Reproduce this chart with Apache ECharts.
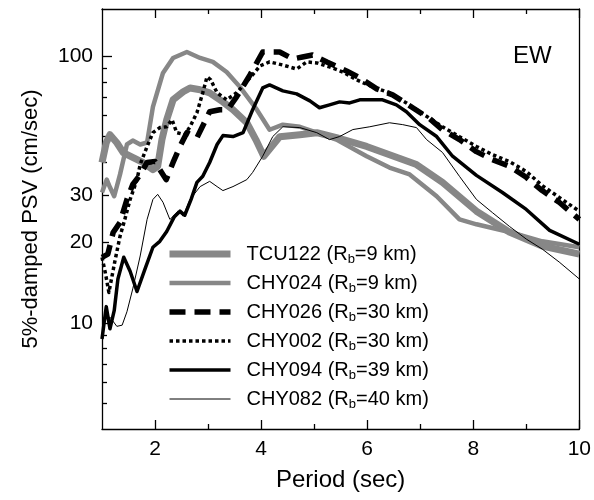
<!DOCTYPE html>
<html><head><meta charset="utf-8">
<script src="https://cdn.jsdelivr.net/npm/echarts@6/dist/echarts.min.js"></script>
<style>html,body{margin:0;padding:0;background:#fff}#c{width:594px;height:500px}</style>
</head><body><div id="c"></div>
<script>
const FONT = '"Liberation Sans", Arial, Helvetica, sans-serif';

const seriesNames = ['TCU122', 'CHY024', 'CHY026', 'CHY002', 'CHY094', 'CHY082'];
const rbKm = ['9', '9', '30', '30', '39', '40'];

const xTickLabels = [2, 4, 6, 8, 10];
const xMinorTicks = [3, 5, 7, 9];
const yTickLabels = [10, 20, 30, 100];
const yMajorTicks = [10, 100];
const yMidTicks = [20, 30];
const yMinorTicks = [5, 6, 7, 8, 9, 40, 50, 60, 70, 80, 90];

const tcu122Period = [1.00,1.08,1.15,1.28,1.40,1.53,1.77,1.96,2.05,2.13,2.22,2.34,2.53,2.66,2.85,3.03,3.28,3.47,3.73,3.90,4.05,4.35,4.73,5.05,5.42,5.99,6.93,7.42,8.06,8.68,9.30,10.00];
const tcu122Psv = [39.9,47.3,50.7,47.3,43.4,42.1,39.9,37.5,38.6,48.6,57.7,68.5,73.4,75.9,74.7,72.7,67.3,62.9,56.2,48.6,42.1,49.8,50.7,51.6,49.4,45.8,39.2,33.6,26.2,21.9,19.4,18.1];

const chy024Period = [1.00,1.09,1.15,1.23,1.34,1.47,1.58,1.72,1.85,1.96,2.15,2.34,2.60,2.85,3.09,3.35,3.60,3.92,4.16,4.41,4.73,5.05,5.42,5.99,6.42,6.80,7.31,7.74,8.06,8.68,9.30,10.00];
const chy024Psv = [30.8,34.4,32.2,29.8,36.0,46.6,48.2,46.6,47.4,64.5,86.4,98.3,103.5,98.3,95.0,87.1,76.6,62.9,52.9,55.3,54.3,51.6,48.6,42.1,38.2,36.0,29.8,24.4,23.4,21.9,20.2,19.2];

const chy026Period = [1.00,1.11,1.21,1.34,1.47,1.58,1.72,1.85,2.00,2.09,2.21,2.34,2.47,2.60,2.79,3.03,3.22,3.37,3.54,3.79,4.03,4.35,4.60,4.78,4.97,5.24,5.61,5.86,6.18,6.48,6.80,7.18,7.42,7.74,8.06,8.36,8.68,9.00,9.30,9.62,10.00];
const chy026Psv = [17.6,18.1,21.8,23.8,29.0,33.0,35.9,39.9,40.2,37.5,34.4,39.9,45.8,51.6,49.4,61.8,62.9,62.9,70.4,84.9,103.5,103.5,97.5,99.1,100.9,95.0,87.9,82.8,75.3,71.5,65.1,58.2,52.9,48.6,43.8,40.9,38.6,35.1,31.3,28.3,24.4];

const chy002Period = [1.00,1.06,1.13,1.24,1.34,1.43,1.53,1.66,1.72,1.85,1.96,2.09,2.22,2.32,2.41,2.56,2.66,2.79,2.90,2.98,3.05,3.17,3.35,3.54,3.79,3.98,4.16,4.41,4.67,4.86,5.05,5.29,5.54,5.80,6.10,6.42,6.74,6.99,7.42,7.74,8.06,8.36,8.68,9.00,9.30,9.62,10.00];
const chy002Psv = [17.6,15.5,13.0,16.9,21.1,24.4,29.0,34.4,39.2,45.8,51.6,53.9,54.3,57.7,51.6,50.7,54.3,61.3,72.8,83.5,81.4,72.8,68.5,72.8,82.8,91.8,95.0,92.5,89.4,95.0,94.2,91.0,87.1,81.4,76.6,72.8,66.7,61.8,54.3,49.8,45.8,42.7,40.2,36.9,32.7,29.5,26.2];

const chy094Period = [1.00,1.08,1.15,1.23,1.30,1.41,1.53,1.66,1.81,1.96,2.09,2.22,2.36,2.47,2.56,2.68,2.79,2.90,3.03,3.17,3.28,3.47,3.66,3.84,4.03,4.16,4.41,4.67,4.92,5.10,5.29,5.48,5.67,5.86,6.29,6.55,6.74,6.99,7.31,7.61,8.06,8.55,9.00,9.44,10.00];
const chy094Psv = [8.7,11.5,9.5,11.1,14.6,17.6,15.6,13.1,15.9,19.2,20.2,22.0,24.9,26.2,25.3,29.0,33.6,35.4,39.9,46.6,50.3,49.9,51.6,62.9,75.9,77.9,74.0,72.1,67.9,64.0,65.6,67.3,66.7,68.5,68.5,65.6,61.8,55.3,49.9,42.1,35.7,30.8,26.6,22.2,19.7];

const chy082Period = [1.00,1.15,1.28,1.38,1.47,1.58,1.72,1.85,1.96,2.05,2.15,2.28,2.36,2.43,2.53,2.66,2.85,3.03,3.17,3.28,3.47,3.73,3.84,4.03,4.22,4.41,4.73,5.05,5.29,5.48,5.73,6.05,6.42,6.67,6.93,7.12,7.42,7.74,8.06,8.36,8.68,9.00,9.30,9.62,10.00];
const chy082Psv = [10.2,10.5,9.7,9.8,11.0,13.4,17.8,24.4,29.0,30.3,28.3,24.4,25.3,26.2,25.1,29.0,32.4,33.9,32.4,31.3,32.4,34.4,36.6,42.1,49.9,54.3,53.9,51.6,48.6,49.9,53.0,54.3,56.2,55.3,53.9,48.6,43.5,35.4,29.0,25.9,23.0,20.6,18.9,16.9,14.6];

const periods = [tcu122Period, chy024Period, chy026Period, chy002Period, chy094Period, chy082Period];
const values = [tcu122Psv, chy024Psv, chy026Psv, chy002Psv, chy094Psv, chy082Psv];

const styles = [
  {color: '#878787', width: 7, type: 'solid'},
  {color: '#878787', width: 4.5, type: 'solid'},
  {color: '#000', width: 5.5, type: [16, 9]},
  {color: '#000', width: 3.5, type: [3.5, 3]},
  {color: '#000', width: 3.5, type: 'solid'},
  {color: '#000', width: 1, type: 'solid'}
];

const series = seriesNames.map((name, i) => ({
  name: name,
  type: 'line',
  xAxisIndex: 0,
  yAxisIndex: 0,
  showSymbol: false,
  symbol: 'none',
  smooth: false,
  silent: true,
  animation: false,
  color: styles[i].color,
  lineStyle: {color: styles[i].color, width: styles[i].width, type: styles[i].type, join: 'round', cap: 'butt'},
  data: periods[i].map((t, k) => [t, values[i][k]])
}));

const AX = {color: '#000', width: 1.3};
function xAx(pos, ticks, len, labels, lineShow) {
  return {
    type: 'value', min: 1, max: 10, position: pos,
    axisLine: {show: lineShow, lineStyle: AX, onZero: false},
    axisTick: {show: true, inside: true, length: len, customValues: ticks, lineStyle: AX},
    axisLabel: labels ? {show: true, customValues: labels, margin: 10, color: '#000', fontSize: 21, fontFamily: FONT} : {show: false},
    splitLine: {show: false}
  };
}
function yAx(pos, ticks, len, labels, lineShow) {
  return {
    type: 'log', logBase: 10, min: 4, max: 150, position: pos,
    axisLine: {show: lineShow, lineStyle: AX, onZero: false},
    axisTick: ticks ? {show: true, inside: true, length: len, customValues: ticks, lineStyle: AX} : {show: false},
    axisLabel: labels ? {show: true, customValues: labels, margin: 9, color: '#000', fontSize: 21, fontFamily: FONT} : {show: false},
    splitLine: {show: false}
  };
}

const xAxes = [
  xAx('bottom', xTickLabels, 9, xTickLabels, true),
  xAx('bottom', xMinorTicks, 5, null, false),
  xAx('top', xTickLabels, 9, null, true),
  xAx('top', xMinorTicks, 5, null, false)
];
Object.assign(xAxes[0], {name: 'Period (sec)', nameLocation: 'middle', nameGap: 39,
  nameTextStyle: {color: '#000', fontSize: 24, fontFamily: FONT}});

const yAxes = [
  yAx('left', yMajorTicks, 10, yTickLabels, true),
  yAx('left', yMidTicks, 7, null, false),
  yAx('left', yMinorTicks, 5, null, false),
  yAx('right', null, 0, null, true)
];
Object.assign(yAxes[0], {name: '5%-damped PSV (cm/sec)', nameLocation: 'middle', nameGap: 60,
  nameTextStyle: {color: '#000', fontSize: 22, fontFamily: FONT}});

const chart = echarts.init(document.getElementById('c'), null, {renderer: 'canvas'});
chart.setOption({
  animation: false,
  backgroundColor: '#fff',
  grid: {left: 102, right: 14, top: 9, bottom: 71, containLabel: false},
  xAxis: xAxes,
  yAxis: yAxes,
  legend: {
    show: true,
    orient: 'vertical',
    left: 166,
    top: 244,
    padding: 0,
    itemWidth: 61,
    itemHeight: 14,
    itemGap: 7,
    selectedMode: false,
    data: seriesNames,
    itemStyle: {color: 'rgba(0,0,0,0)', borderColor: 'rgba(0,0,0,0)', borderWidth: 0, opacity: 0},
    lineStyle: {width: 'inherit', type: 'inherit', color: 'inherit'},
    formatter: function (name) {
      const i = seriesNames.indexOf(name);
      return '{n|' + name + ' (R}{s|b}{n|=' + rbKm[i] + ' km)}';
    },
    textStyle: {
      color: '#000', fontSize: 20, fontFamily: FONT, padding: [0, 0, 0, 11],
      rich: {
        n: {fontSize: 20, fontFamily: FONT, color: '#000', lineHeight: 24, verticalAlign: 'middle'},
        s: {fontSize: 13, fontFamily: FONT, color: '#000', lineHeight: 13, verticalAlign: 'bottom'}
      }
    }
  },
  graphic: [{
    type: 'text', left: 513, top: 44,
    style: {text: 'EW', fontSize: 24, fontFamily: FONT, fill: '#000'}
  }],
  series: series
});
</script></body></html>
